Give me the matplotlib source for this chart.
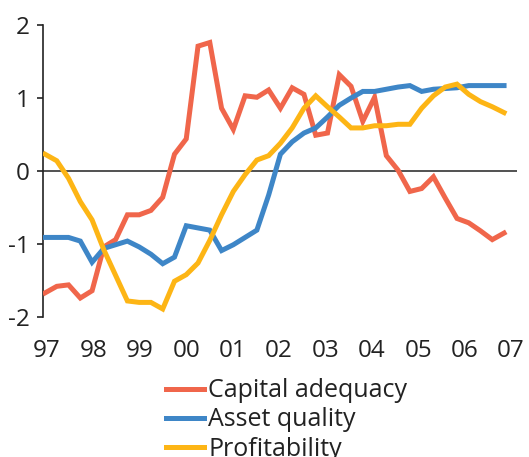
import numpy as np
import matplotlib
matplotlib.use("Agg")
import matplotlib.pyplot as plt

plt.rcParams['font.family'] = ['Open Sans', 'DejaVu Sans']

year_labels = ['97', '98', '99', '00', '01', '02', '03', '04', '05', '06', '07']

capital_adequacy = [-1.67, -1.58, -1.56, -1.74, -1.64, -1.04, -0.94, -0.60, -0.60, -0.54,
                    -0.36, 0.23, 0.44, 1.71, 1.76, 0.86, 0.57, 1.03, 1.01, 1.11,
                    0.86, 1.14, 1.05, 0.49, 0.52, 1.32, 1.16, 0.68, 1.01, 0.21,
                    0.01, -0.28, -0.24, -0.08, -0.37, -0.65, -0.71, -0.82, -0.94, -0.85]
asset_quality = [-0.91, -0.91, -0.91, -0.96, -1.25, -1.06, -1.01, -0.96, -1.04, -1.14,
                 -1.27, -1.18, -0.75, -0.78, -0.81, -1.09, -1.01, -0.91, -0.81, -0.33,
                 0.23, 0.40, 0.52, 0.59, 0.74, 0.90, 1.00, 1.09, 1.09, 1.12,
                 1.15, 1.17, 1.09, 1.12, 1.13, 1.14, 1.17, 1.17, 1.17, 1.17]
profitability = [0.23, 0.14, -0.10, -0.42, -0.67, -1.08, -1.43, -1.78, -1.80, -1.80,
                 -1.89, -1.51, -1.42, -1.26, -0.95, -0.60, -0.28, -0.05, 0.15, 0.21,
                 0.38, 0.59, 0.86, 1.03, 0.88, 0.74, 0.59, 0.59, 0.62, 0.62,
                 0.64, 0.64, 0.86, 1.03, 1.15, 1.19, 1.05, 0.95, 0.88, 0.80]

series = [
    ('Capital adequacy', capital_adequacy, '#F0664B'),
    ('Asset quality', asset_quality, '#3E86C7'),
    ('Profitability', profitability, '#FDB515'),
]

W, H = 529, 457
fig = plt.figure(figsize=(W / 100, H / 100), dpi=100)
ax = fig.add_axes([43 / W, 1 - 317 / H, 474 / W, 292 / H])

x = np.arange(len(capital_adequacy))
ax.axhline(0, color='#333333', lw=1.2, zorder=1)
for name, vals, col in series:
    ax.plot(x, vals, color=col, lw=3.6, label=name, zorder=3, solid_joinstyle='miter')

ax.set_xlim(-0.17, 40.1)
ax.set_ylim(-2, 2)

for s in ['top', 'right', 'bottom']:
    ax.spines[s].set_visible(False)
ax.spines['left'].set_color('#222222')
ax.spines['left'].set_linewidth(1.2)

ax.set_yticks([-2, -1, 0, 1, 2])
ax.set_yticklabels(['-2', '-1', '0', '1', '2'])
ax.tick_params(axis='y', direction='out', length=4.3, width=1.2, color='#222222',
               labelsize=17.5, pad=5.5, labelcolor='#222222')

ax.set_xticks(np.linspace(0.17, 39.6, len(year_labels)))
ax.set_xticklabels(year_labels)
ax.tick_params(axis='x', length=0, labelsize=17.5, pad=16, labelcolor='#222222')

fig.legend(loc='center left', bbox_to_anchor=(166 / W, 1 - 420 / H), frameon=False,
           fontsize=18, handlelength=1.5, handletextpad=0.2, labelspacing=0.17,
           borderpad=0, borderaxespad=0, labelcolor='#222222')

fig.savefig('out.png', dpi=100)
